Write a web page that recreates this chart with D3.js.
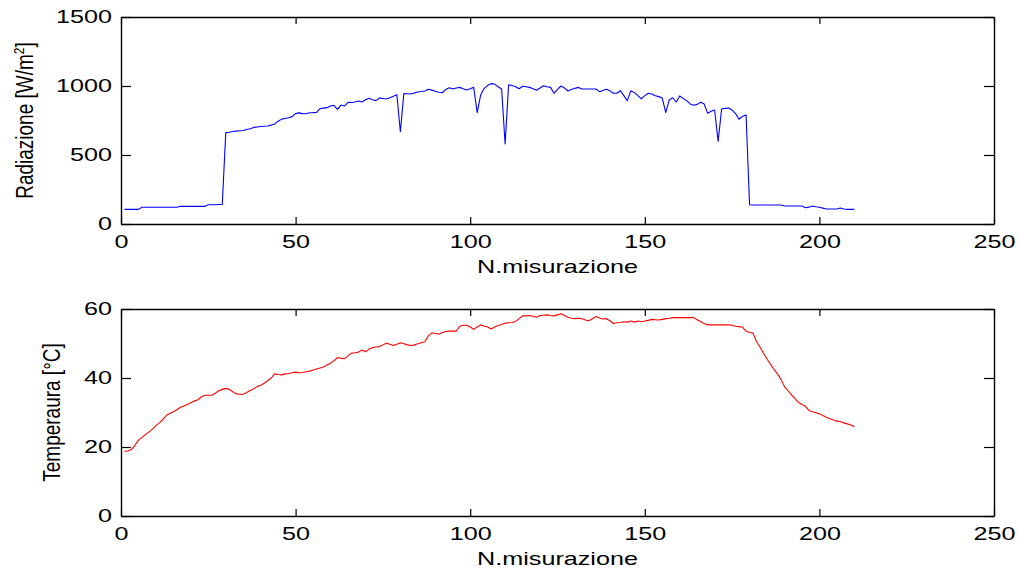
<!DOCTYPE html>
<html>
<head>
<meta charset="utf-8">
<script src="https://cdn.jsdelivr.net/npm/d3@7"></script>
<style>
  html, body { margin: 0; padding: 0; background: #fff; }
  svg { display: block; }
  text { font-family: "Liberation Sans", Arial, Helvetica, sans-serif; fill: #000; }
</style>
</head>
<body>
<svg id="chart" width="1019" height="570"></svg>
<script>
// Irradiance [W/m2] for measurements 1..210
const radiazione = [
  106,106,106,106,106,121,121,121,121,121,
  121,121,121,121,121,121,128,128,128,128,
  128,128,128,128,140,140,140,141,142,662,
  665,670,673,676,678,685,690,700,703,706,
  708,710,718,725,745,760,765,770,778,800,
  805,800,799,806,807,809,836,840,843,855,
  860,831,862,855,882,880,884,891,884,900,
  911,900,894,913,910,906,915,925,937,669,
  946,944,942,950,957,960,964,976,970,962,
  955,951,975,988,978,985,990,980,971,980,
  990,807,935,983,1005,1017,1014,995,978,580,
  1009,1003,995,980,998,994,990,980,969,985,
  1002,995,990,947,975,1000,985,964,975,983,
  990,978,978,978,978,978,959,968,976,965,
  947,947,966,930,894,966,952,930,906,930,
  947,942,930,923,913,807,899,915,884,928,
  910,894,870,860,867,882,870,802,817,826,
  599,833,838,841,826,800,759,780,790,140,
  138,138,138,138,138,138,138,138,138,130,
  130,130,130,130,130,118,122,130,125,121,
  115,109,109,109,109,116,109,106,106,106
];

// Temperature [°C] for measurements 1..210
const temperatura = [
  18.7,18.9,19.3,20.5,22.0,22.8,23.6,24.4,25.2,26.2,
  27.0,28.0,29.2,29.7,30.2,30.8,31.5,31.9,32.3,32.8,
  33.3,33.7,34.5,35.0,35.0,35.0,35.6,36.3,36.7,37.0,
  36.7,36.0,35.4,35.3,35.3,35.8,36.4,36.9,37.5,37.9,
  38.5,39.2,40.0,41.2,41.0,40.9,41.2,41.3,41.5,41.7,
  41.5,41.6,41.8,42.0,42.3,42.6,42.9,43.2,43.8,44.3,
  45.0,45.9,45.7,45.6,46.4,47.2,47.3,47.5,48.1,47.6,
  48.3,48.8,49.0,49.1,49.6,50.1,49.8,49.4,49.8,50.2,
  49.9,49.6,49.4,49.6,49.9,50.2,50.5,52.2,53.1,52.9,
  52.7,53.2,53.5,53.6,53.6,53.6,55.0,55.3,55.3,54.8,
  54.1,54.8,55.4,55.0,54.8,54.2,54.8,55.2,55.5,55.9,
  56.0,56.1,56.4,57.2,58.0,58.0,58.1,57.9,57.6,58.1,
  58.2,58.3,58.1,58.0,58.3,58.6,58.1,57.6,57.3,57.2,
  57.3,57.2,56.8,56.6,57.2,57.8,57.4,57.1,57.2,56.6,
  55.8,56.0,56.1,56.3,56.2,56.5,56.2,56.5,56.3,56.5,
  56.7,57.0,56.9,56.8,57.0,57.2,57.3,57.5,57.5,57.5,
  57.5,57.5,57.5,57.5,56.9,56.3,55.8,55.4,55.4,55.4,
  55.4,55.4,55.4,55.4,55.3,55.0,54.9,54.7,53.6,53.2,
  53.0,50.5,49.0,47.2,45.5,44.0,42.5,41.2,39.6,37.5,
  36.3,35.1,34.0,32.9,32.3,31.8,30.6,30.2,29.9,29.6,
  29.1,28.6,28.2,27.8,27.5,27.3,27.0,26.7,26.4,25.9
];

const misurazioni = d3.range(1, radiazione.length + 1);

const xTicks = [0, 50, 100, 150, 200, 250];
const yTicksRad = [0, 500, 1000, 1500];
const yTicksTemp = [0, 20, 40, 60];

const FONT = 18.5;
const SX = 1.36;   // horizontal stretch applied to all text
const fmt = d3.format("d");

const svg = d3.select("#chart");

const left = 121, right = 994;

function panel(opts) {
  const { top, bottom, yDomain, yTicks, values, color, labelParts, labelX } = opts;
  const x = d3.scaleLinear().domain([0, 250]).range([left, right]);
  const y = d3.scaleLinear().domain(yDomain).range([bottom, top]);
  const g = svg.append("g");

  // axes on all four sides, ticks pointing inward
  const ax = [
    g.append("g").attr("transform", `translate(0,${bottom})`)
      .call(d3.axisBottom(x).tickValues(xTicks).tickFormat(fmt).tickSizeInner(-7).tickSizeOuter(0).tickPadding(11)),
    g.append("g").attr("transform", `translate(0,${top})`)
      .call(d3.axisTop(x).tickValues(xTicks).tickSizeInner(-7).tickSizeOuter(0).tickFormat("")),
    g.append("g").attr("transform", `translate(${left},0)`)
      .call(d3.axisLeft(y).tickValues(yTicks).tickFormat(fmt).tickSizeInner(-10).tickSizeOuter(0).tickPadding(9)),
    g.append("g").attr("transform", `translate(${right},0)`)
      .call(d3.axisRight(y).tickValues(yTicks).tickSizeInner(-10).tickSizeOuter(0).tickFormat(""))
  ];
  ax.forEach(a => {
    a.selectAll("path.domain").attr("stroke", "#000").attr("stroke-width", 1.4);
    a.selectAll(".tick line").attr("stroke", "#000").attr("stroke-width", 1.2);
    a.selectAll("text")
      .style("font-size", FONT + "px")
      .style("font-family", '"Liberation Sans", Arial, sans-serif')
      .attr("fill", "#000");
  });
  // stretch tick labels horizontally
  ax[0].selectAll("text").attr("transform", `scale(${SX},1)`);
  ax[2].selectAll("text").attr("x", -9 / SX).attr("transform", `scale(${SX},1)`);

  // data line
  const line = d3.line().x((d, i) => x(misurazioni[i])).y(d => y(d));
  g.append("path").datum(values)
    .attr("fill", "none")
    .attr("stroke", color)
    .attr("stroke-width", 1.1)
    .attr("stroke-linejoin", "round")
    .attr("d", line);

  // x label
  g.append("text")
    .attr("transform", `translate(${(left + right) / 2},${bottom + 48.5}) scale(${SX},1)`)
    .attr("text-anchor", "middle")
    .style("font-size", FONT + "px")
    .text("N.misurazione");

  // y label
  const yl = g.append("text")
    .attr("transform", `translate(${labelX},${(top + bottom) / 2}) scale(${SX * 0.9},1) rotate(-90)`)
    .attr("text-anchor", "middle")
    .style("font-size", (FONT + 0.5) + "px");
  labelParts.forEach(p => {
    const t = yl.append("tspan").text(p.text);
    if (p.sup) t.attr("dy", -7).style("font-size", "12px");
    if (p.after) t.attr("dy", 7);
  });
}

panel({
  top: 17, bottom: 224, yDomain: [0, 1500], yTicks: yTicksRad,
  values: radiazione, color: "#0000ff", labelX: 33,
  labelParts: [{ text: "Radiazione [W/m" }, { text: "2", sup: true }, { text: "]", after: true }]
});

panel({
  top: 309, bottom: 516, yDomain: [0, 60], yTicks: yTicksTemp,
  values: temperatura, color: "#ff0000", labelX: 60,
  labelParts: [{ text: "Temperaura [°C]" }]
});
</script>
</body>
</html>
